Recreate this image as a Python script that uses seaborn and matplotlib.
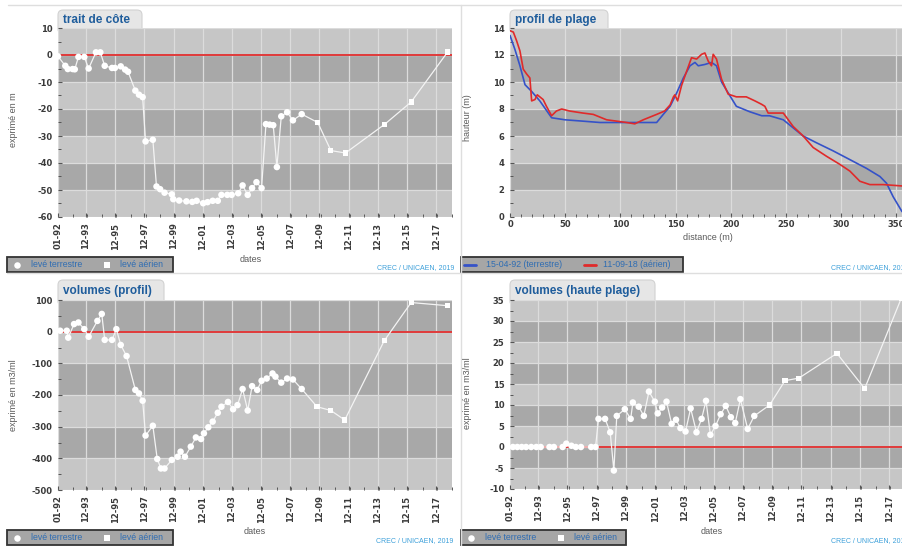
import numpy as np
import pandas as pd
import matplotlib
matplotlib.use('Agg')
import matplotlib.pyplot as plt
import seaborn as sns
from matplotlib.patches import FancyBboxPatch, Rectangle
from matplotlib.ticker import MultipleLocator

# trait de côte (m)
tc_dates = [1992.0, 1992.5, 1992.67, 1993.0, 1993.15, 1993.4, 1993.8, 1994.1, 1994.6, 1994.9,
            1995.2, 1995.7, 1995.9, 1996.3, 1996.6, 1996.8, 1997.3, 1997.55, 1997.8, 1998.0,
            1998.5, 1998.75, 1999.0, 1999.3, 1999.8, 1999.9, 2000.3, 2000.8, 2001.2, 2001.5,
            2001.95, 2002.25, 2002.6, 2002.95, 2003.2, 2003.6, 2003.9, 2004.35, 2004.65, 2005.0,
            2005.3, 2005.6, 2005.95, 2006.25, 2006.5, 2006.75, 2007.0, 2007.3, 2007.7, 2008.1,
            2008.7, 2009.8, 2010.7, 2011.7, 2014.4, 2016.2, 2018.7]
tc_values = [-0.5, -4, -5.2, -5.2, -5.3, -0.7, -0.7, -5, 1, 1,
             -4, -4.8, -4.8, -4.2, -5.4, -6.2, -13.2, -14.7, -15.6, -32,
             -31.4, -48.7, -49.7, -51, -51.6, -53.4, -53.9, -54.2, -54.4, -54,
             -54.9, -54.5, -54, -54, -51.8, -51.8, -51.8, -51.2, -48.3, -51.8,
             -49.3, -47.1, -49.3, -25.6, -25.8, -26, -41.5, -22.7, -21.2, -24.2,
             -21.9, -25, -35.4, -36.3, -25.6, -17.4, 1.1]

# volumes (profil) (m3/ml)
vp_dates = [1992.15, 1992.6, 1992.7, 1993.1, 1993.4, 1993.8, 1994.1, 1994.7, 1995.0, 1995.2,
            1995.7, 1996.0, 1996.3, 1996.7, 1997.3, 1997.55, 1997.8, 1998.0, 1998.5, 1998.8,
            1999.05, 1999.3, 1999.8, 2000.2, 2000.4, 2000.7, 2001.1, 2001.45, 2001.8, 2002.0,
            2002.3, 2002.6, 2002.95, 2003.2, 2003.65, 2004.0, 2004.3, 2004.65, 2005.0, 2005.3,
            2005.65, 2005.95, 2006.3, 2006.7, 2006.9, 2007.3, 2007.7, 2008.1, 2008.7, 2009.75,
            2010.7, 2011.65, 2014.35, 2016.2, 2018.7]
vp_values = [3, 3, -19, 24, 29, 8, -16, 34, 56, -26,
             -26, 8, -42, -77, -184, -195, -218, -328, -297, -402,
             -432, -432, -405, -395, -379, -395, -363, -334, -339, -321,
             -302, -284, -256, -237, -222, -245, -232, -181, -249, -172,
             -184, -155, -148, -132, -142, -161, -148, -151, -181, -237,
             -249, -279, -29, 92, 82]

# volumes (haute plage) (m3/ml)
hp_dates = [1992.2, 1992.5, 1992.8, 1993.1, 1993.45, 1993.8, 1994.1, 1994.7, 1995.0, 1995.6,
            1995.85, 1996.2, 1996.5, 1996.85, 1997.55, 1997.85, 1998.05, 1998.5, 1998.85, 1999.1,
            1999.3, 1999.85, 2000.25, 2000.4, 2000.8, 2001.15, 2001.5, 2001.9, 2002.1, 2002.4,
            2002.7, 2003.05, 2003.35, 2003.65, 2004.0, 2004.35, 2004.75, 2005.1, 2005.4, 2005.7,
            2006.05, 2006.4, 2006.75, 2007.1, 2007.4, 2007.75, 2008.25, 2008.7, 2009.75, 2010.8,
            2011.75, 2014.35, 2016.25, 2018.75]
hp_values = [0, 0, 0, 0, 0, 0, 0, 0, 0, 0,
             0.8, 0.3, 0, 0, 0, 0, 6.7, 6.7, 3.5, -5.6,
             7.4, 9.0, 6.7, 10.6, 9.6, 7.4, 13.2, 10.8, 8.0, 9.4,
             10.8, 5.5, 6.5, 4.5, 3.7, 9.2, 3.5, 6.7, 11.0, 2.9,
             5.0, 7.8, 9.8, 7.1, 5.7, 11.4, 4.3, 7.4, 10.0, 15.8,
             16.4, 22.3, 13.9, 35.4]

# profil de plage
p92_dist = [0, 4.5, 9, 13.6, 19.6, 27, 37.7, 49.8, 66, 81.5,
            99.6, 114.7, 132.8, 138.8, 145, 151, 157, 163, 167.5, 170.5,
            176.5, 182.5, 187, 191.6, 199, 205, 217, 228, 235, 247.5,
            256.5, 265.5, 277.5, 292.6, 307.8, 322.9, 335, 341, 347, 355]
p92_h = [13.45, 12.4, 11.2, 9.8, 9.3, 8.6, 7.35, 7.2, 7.1, 7.0,
         7.0, 7.0, 7.0, 7.6, 8.2, 9.2, 10.3, 11.2, 11.45, 11.2,
         11.3, 11.45, 11.2, 10.0, 9.0, 8.2, 7.8, 7.5, 7.5, 7.2,
         6.6, 6.0, 5.5, 4.9, 4.25, 3.6, 3.0, 2.5, 1.5, 0.4]
p18_dist = [0, 3, 6, 9, 12, 15, 18, 19.6, 22.6, 24.7,
            27, 30, 33, 37.7, 42, 46.8, 54, 66, 75.4, 87.5,
            96.6, 105.6, 113, 120.7, 132.8, 140, 145, 148, 149.3, 151.8,
            155.4, 160, 164.4, 169, 173.5, 176.5, 179.5, 182.5, 184, 187,
            191.6, 197.6, 205, 214, 221.8, 227.8, 230.8, 233.8, 239.8, 247.5,
            256.5, 265.5, 274.5, 286.6, 298.7, 307.8, 316.8, 325.9, 338, 355]
p18_h = [13.8, 13.7, 13.05, 12.3, 10.95, 10.6, 10.3, 8.6, 8.7, 9.05,
         8.9, 8.7, 8.2, 7.5, 7.85, 8.0, 7.85, 7.7, 7.6, 7.2,
         7.1, 7.0, 6.9, 7.2, 7.6, 7.85, 8.3, 8.9, 9.05, 8.6,
         9.75, 10.8, 11.8, 11.7, 12.05, 12.15, 11.55, 11.2, 12.05, 11.7,
         10.2, 9.1, 8.9, 8.9, 8.6, 8.35, 8.2, 7.7, 7.7, 7.7,
         6.7, 6.0, 5.15, 4.5, 3.9, 3.4, 2.65, 2.4, 2.4, 2.3]
p92_label = '15-04-92 (terrestre)'
p18_label = '11-09-18 (aérien)'

date_ticks = ['01-92', '12-93', '12-95', '12-97', '12-99', '12-01', '12-03',
              '12-05', '12-07', '12-09', '12-11', '12-13', '12-15', '12-17']
AERIAL_FROM = 2009.5   # levés aériens after this date

W, H = 902, 546
LIGHT = '#c6c6c6'
DARK = '#a8a8a8'
GRID = '#dcdcdc'
RED0 = '#e03a3a'
BLUE_TXT = '#2f6db3'
TITLE_COL = '#1f5d9c'
TICK_COL = '#3a3a3a'
LAB_COL = '#5a5a5a'

sns.set_style('white')
plt.rcParams['font.family'] = ['DejaVu Sans']
plt.rcParams['axes.unicode_minus'] = False

fig = plt.figure(figsize=(W / 100, H / 100), dpi=100)
bg = fig.add_axes([0, 0, 1, 1], zorder=-1)
bg.set_xlim(0, W)
bg.set_ylim(H, 0)
bg.axis('off')


def px_axes(x0, y0, x1, y1):
    return fig.add_axes([x0 / W, 1 - y1 / H, (x1 - x0) / W, (y1 - y0) / H])


def date_pos(lab):
    m, y = lab.split('-')
    y = int(y)
    year = 1900 + y if y > 50 else 2000 + y
    return year + (int(m) - 1) / 12


def base_style(ax, ylim, ystep, yminor):
    for i, y0 in enumerate(np.arange(ylim[0], ylim[1], ystep)):
        ax.axhspan(y0, y0 + ystep, color=LIGHT if i % 2 == 0 else DARK, lw=0, zorder=0)
    ax.set_ylim(*ylim)
    ax.set_yticks(np.arange(ylim[0], ylim[1] + ystep / 2, ystep))
    ax.set_yticklabels([f'{v:g}' for v in np.arange(ylim[0], ylim[1] + ystep / 2, ystep)])
    ax.yaxis.set_minor_locator(MultipleLocator(yminor))
    ax.grid(True, which='major', color=GRID, lw=0.9)
    ax.set_axisbelow(True)
    for s in ax.spines.values():
        s.set_visible(False)
    ax.tick_params(axis='both', which='major', direction='in', length=3, width=0.8,
                   color='#555555', labelsize=6, labelcolor=TICK_COL, pad=4)
    ax.tick_params(axis='both', which='minor', direction='in', length=2, width=0.7,
                   color='#555555')
    ax.tick_params(axis='x', which='both', bottom=True)
    ax.tick_params(axis='y', which='both', left=True)
    for t in ax.get_yticklabels() + ax.get_xticklabels():
        t.set_fontweight('bold')
    ax.set_xlabel('')
    ax.set_ylabel('')


def dated_panel(ax, dates, values, ylim, ystep, yminor, xmax):
    df = pd.DataFrame({'date': dates, 'valeur': values})
    df['leve'] = np.where(df['date'] >= AERIAL_FROM, 'aérien', 'terrestre')
    ax.axhline(0, color=RED0, lw=1.4, zorder=2)
    sns.lineplot(data=df, x='date', y='valeur', color='#f4f4f4', lw=0.9,
                 estimator=None, sort=False, ax=ax, zorder=3)
    sns.scatterplot(data=df[df['leve'] == 'terrestre'], x='date', y='valeur', marker='o',
                    s=22, color='white', edgecolor='none', ax=ax, zorder=4)
    sns.scatterplot(data=df[df['leve'] == 'aérien'], x='date', y='valeur', marker='s',
                    s=14, color='white', edgecolor='none', ax=ax, zorder=4)
    ax.set_xlim(1992, xmax)
    ax.set_xticks([date_pos(t) for t in date_ticks])
    ax.set_xticklabels(date_ticks, rotation=90)
    ax.xaxis.set_minor_locator(MultipleLocator(1))
    base_style(ax, ylim, ystep, yminor)


def tab(x0, x1, y0, y1, text):
    bg.add_patch(FancyBboxPatch((x0, y0), x1 - x0, (y1 - y0) + 6,
                                boxstyle='round,pad=0,rounding_size=5',
                                fc='#e6e6e6', ec='#d2d2d2', lw=0.8))
    bg.text(x0 + 5, (y0 + y1) / 2 + 1, text, fontsize=8.5, fontweight='bold',
            color=TITLE_COL, va='center', ha='left', family='Liberation Sans')


def legend_box(x0, y0, x1, y1):
    bg.add_patch(Rectangle((x0, y0), x1 - x0, y1 - y0, fc='#a6a6a6', ec='#333333', lw=1.3))


def leg_text(x, y, s):
    bg.text(x, y, s, fontsize=6.3, color=BLUE_TXT, va='center', ha='left',
            family='Liberation Sans')


def credits(x, y):
    bg.text(x, y, 'CREC / UNICAEN, 2019', fontsize=5, color='#3da0da', va='center',
            ha='left', family='Liberation Sans')


def small_label(x, y, s, rot=0):
    bg.text(x, y, s, fontsize=6.5, color=LAB_COL, rotation=rot, va='center', ha='center',
            family='Liberation Sans')


# panel separators
bg.plot([8, W], [5, 5], color='#dedede', lw=1)
bg.plot([461, 461], [5, H], color='#dedede', lw=1)
bg.plot([7, W], [273, 273], color='#dedede', lw=1)

# trait de côte
ax1 = px_axes(58, 28, 452, 217)
dated_panel(ax1, tc_dates, tc_values, (-60, 10), 10, 5, 2019.0)
tab(58, 142, 10, 28, 'trait de côte')
small_label(13, 120, 'exprimé en m', 90)
small_label(251, 260, 'dates')
legend_box(7, 257, 173, 272)
bg.scatter([17], [264.5], s=22, marker='o', color='white', lw=0)
bg.scatter([107], [264.5], s=16, marker='s', color='white', lw=0)
leg_text(31, 264.5, 'levé terrestre')
leg_text(120, 264.5, 'levé aérien')
credits(377, 268)

# profil de plage
ax2 = px_axes(510, 28, 902, 217)
prof = pd.concat([
    pd.DataFrame({'distance': p92_dist, 'hauteur': p92_h, 'leve': p92_label}),
    pd.DataFrame({'distance': p18_dist, 'hauteur': p18_h, 'leve': p18_label}),
])
sns.lineplot(data=prof, x='distance', y='hauteur', hue='leve',
             palette={p92_label: '#3552c8', p18_label: '#e02a2a'},
             estimator=None, sort=False, lw=1.2, legend=False, ax=ax2, zorder=3)
ax2.set_xlim(0, 355)
ax2.set_xticks(np.arange(0, 351, 50))
ax2.xaxis.set_minor_locator(MultipleLocator(10))
base_style(ax2, (0, 14), 2, 1)
ax2.tick_params(axis='x', which='major', pad=2)
tab(510, 608, 10, 28, 'profil de plage')
small_label(468, 118, 'hauteur (m)', 90)
small_label(708, 237, 'distance (m)')
legend_box(461, 257, 683, 272)
bg.plot([464, 476], [264.5, 264.5], color='#3552c8', lw=2)
bg.plot([584, 596], [264.5, 264.5], color='#e02a2a', lw=2)
leg_text(486, 264.5, p92_label)
leg_text(603, 264.5, p18_label)
credits(831, 268)

# volumes (profil)
ax3 = px_axes(58, 300, 452, 490)
dated_panel(ax3, vp_dates, vp_values, (-500, 100), 100, 50, 2019.0)
tab(58, 164, 280, 300, 'volumes (profil)')
small_label(13, 395, 'exprimé en m3/ml', 90)
small_label(255, 531, 'dates')
legend_box(7, 530, 173, 545)
bg.scatter([17], [537.5], s=22, marker='o', color='white', lw=0)
bg.scatter([107], [537.5], s=16, marker='s', color='white', lw=0)
leg_text(31, 537.5, 'levé terrestre')
leg_text(120, 537.5, 'levé aérien')
credits(376, 541)

# volumes (haute plage)
ax4 = px_axes(510, 300, 902, 489)
dated_panel(ax4, hp_dates, hp_values, (-10, 35), 5, 2.5, 2018.8)
tab(510, 655, 280, 300, 'volumes (haute plage)')
small_label(468, 393, 'exprimé en m3/ml', 90)
small_label(712, 531, 'dates')
legend_box(461, 530, 626, 545)
bg.scatter([471], [537.5], s=22, marker='o', color='white', lw=0)
bg.scatter([561], [537.5], s=16, marker='s', color='white', lw=0)
leg_text(485, 537.5, 'levé terrestre')
leg_text(574, 537.5, 'levé aérien')
credits(831, 541)

fig.savefig('out.png', dpi=100)
